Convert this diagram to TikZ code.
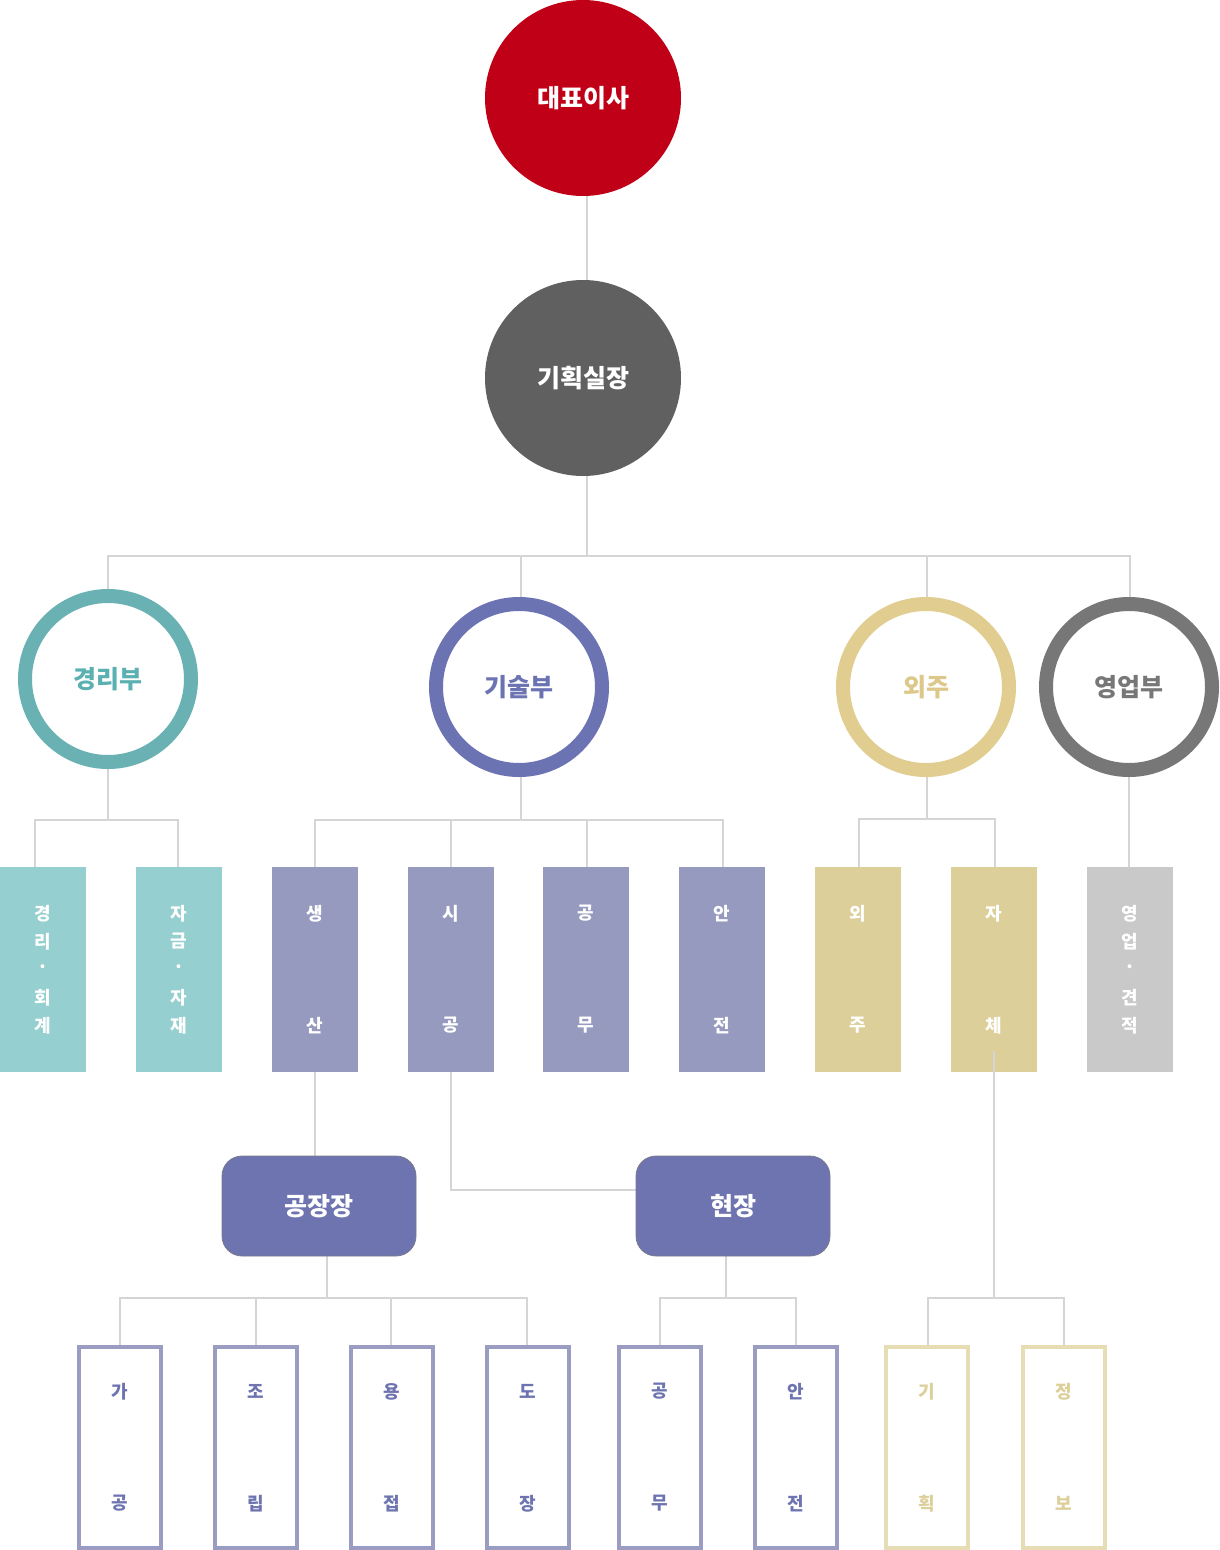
\documentclass[tikz,border=0pt]{standalone}
\usepackage{fontspec}
\setmainfont{Noto Sans CJK KR}
\usetikzlibrary{backgrounds}
\definecolor{lineC}{HTML}{D5D5D5}
\definecolor{ceoC}{HTML}{C00016}
\definecolor{planC}{HTML}{606060}
\definecolor{tealR}{HTML}{6AB1B4}
\definecolor{tealT}{HTML}{5BB0B1}
\definecolor{purR}{HTML}{6C73B3}
\definecolor{yelR}{HTML}{E0CD8F}
\definecolor{yelT}{HTML}{DCC88A}
\definecolor{grayR}{HTML}{777777}
\definecolor{mTeal}{HTML}{95CFD0}
\definecolor{mPur}{HTML}{979ABF}
\definecolor{mYel}{HTML}{DDCF99}
\definecolor{mGray}{HTML}{C9C9C9}
\definecolor{mgrC}{HTML}{6E74AF}
\definecolor{mgrEdge}{HTML}{7A7A8E}
\definecolor{bPur}{HTML}{9A9CC2}
\definecolor{bPurT}{HTML}{6E74AF}
\definecolor{bYel}{HTML}{E6DDB5}
\definecolor{bYelT}{HTML}{DCCF99}
\newcommand\twochB[4]{%
  \node[ch,text=#4] at ([yshift=56pt]#1.center) {#2};
  \node[ch,text=#4] at ([yshift=-56pt]#1.center) {#3};}
\newcommand\fivech[6]{%
  \node[ch,text=#6] at ([yshift=56pt]#1.center) {#2};
  \node[ch,text=#6] at ([yshift=28pt]#1.center) {#3};
  \node[ch,text=#6] at (#1.center) {·};
  \node[ch,text=#6] at ([yshift=-28pt]#1.center) {#4};
  \node[ch,text=#6] at ([yshift=-56pt]#1.center) {#5};}
\begin{document}
\begin{tikzpicture}[x=1pt,y=-1pt,
  conn/.style={draw=lineC, line width=2pt},
  solidc/.style={circle, minimum size=196pt, inner sep=0pt, text=white,
    font=\bfseries\fontsize{25}{28}\selectfont},
  ring/.style={circle, minimum size=166pt, line width=14pt, fill=white, inner sep=0pt,
    font=\bfseries\fontsize{25}{28}\selectfont},
  midbox/.style={rectangle, minimum width=86pt, minimum height=205pt, inner sep=0pt},
  botbox/.style={rectangle, minimum width=82pt, minimum height=201pt, line width=4pt,
    fill=white, inner sep=0pt},
  mgr/.style={rectangle, rounded corners=20pt, minimum width=194pt, minimum height=100pt,
    fill=mgrC, draw=mgrEdge, line width=0.8pt, text=white, inner sep=0pt,
    font=\bfseries\fontsize{25}{28}\selectfont},
  ch/.style={inner sep=0pt, font=\bfseries\fontsize{18}{20}\selectfont}]
\useasboundingbox (0,0) rectangle (1219,1550);

% top circles
\node[solidc, fill=ceoC] (ceo) at (583,98) {대표이사};
\node[solidc, fill=planC] (plan) at (583,378) {기획실장};

% department rings
\node[ring, draw=tealR, text=tealT] (gr) at (108,679) {경리부};
\node[ring, draw=purR, text=purR] (gs) at (519,687) {기술부};
\node[ring, draw=yelR, text=yelT] (oj) at (926,687) {외주};
\node[ring, draw=grayR, text=grayR] (yu) at (1129,687) {영업부};

% middle boxes
\node[midbox, fill=mTeal] (b1) at (43,969.5) {};
\node[midbox, fill=mTeal] (b2) at (179,969.5) {};
\node[midbox, fill=mPur] (b3) at (314.5,969.5) {};
\node[midbox, fill=mPur] (b4) at (450.5,969.5) {};
\node[midbox, fill=mPur] (b5) at (586,969.5) {};
\node[midbox, fill=mPur] (b6) at (722,969.5) {};
\node[midbox, fill=mYel] (b7) at (858,969.5) {};
\node[midbox, fill=mYel] (b8) at (994,969.5) {};
\node[midbox, fill=mGray] (b9) at (1129.5,969.5) {};

\fivech{b1}{경}{리}{회}{계}{white}
\fivech{b2}{자}{금}{자}{재}{white}
\twochB{b3}{생}{산}{white}
\twochB{b4}{시}{공}{white}
\twochB{b5}{공}{무}{white}
\twochB{b6}{안}{전}{white}
\twochB{b7}{외}{주}{white}
\twochB{b8}{자}{체}{white}
\fivech{b9}{영}{업}{견}{적}{white}

% managers
\node[mgr] (gjj) at (319,1206) {공장장};
\node[mgr] (hj) at (733,1206) {현장};

% bottom boxes
\node[botbox, draw=bPur] (c1) at (120,1447.5) {};
\node[botbox, draw=bPur] (c2) at (256,1447.5) {};
\node[botbox, draw=bPur] (c3) at (391.5,1447.5) {};
\node[botbox, draw=bPur] (c4) at (528,1447.5) {};
\node[botbox, draw=bPur] (c5) at (659.5,1447.5) {};
\node[botbox, draw=bPur] (c6) at (796,1447.5) {};
\node[botbox, draw=bYel] (c7) at (927,1447.5) {};
\node[botbox, draw=bYel] (c8) at (1063.5,1447.5) {};

\twochB{c1}{가}{공}{bPurT}
\twochB{c2}{조}{립}{bPurT}
\twochB{c3}{용}{접}{bPurT}
\twochB{c4}{도}{장}{bPurT}
\twochB{c5}{공}{무}{bPurT}
\twochB{c6}{안}{전}{bPurT}
\twochB{c7}{기}{획}{bYelT}
\twochB{c8}{정}{보}{bYelT}

% bus coordinates
\coordinate (t0) at (587,556);
\coordinate (tL) at (108,556);
\coordinate (tR) at (1130,556);
\coordinate (t2) at (521,556);
\coordinate (t3) at (927,556);
\coordinate (g0) at (108,820);
\coordinate (gL) at (35,820);
\coordinate (gR) at (178,820);
\coordinate (s0) at (521,820);
\coordinate (sL) at (315,820);
\coordinate (s2) at (451,820);
\coordinate (s3) at (587,820);
\coordinate (sR) at (723,820);
\coordinate (o0) at (927,819);
\coordinate (oL) at (859,819);
\coordinate (oR) at (995,819);
\coordinate (f0) at (327,1298);
\coordinate (fL) at (120,1298);
\coordinate (f2) at (256,1298);
\coordinate (f3) at (391,1298);
\coordinate (fR) at (527,1298);
\coordinate (h0) at (726,1298);
\coordinate (hL) at (660,1298);
\coordinate (hR) at (796,1298);
\coordinate (j0) at (994,1298);
\coordinate (jL) at (928,1298);
\coordinate (jR) at (1064,1298);
\coordinate (jtop) at (994,1051);

\begin{pgfonlayer}{background}
\fill[white] (0,0) rectangle (1219,1550);
% top
\draw[conn] (ceo.south -| t0) -- (plan.north -| t0);
\draw[conn] (plan.south -| t0) -- (t0);
\draw[conn] (gr.north) -- (tL) -- (tR) -- (yu.north -| tR);
\draw[conn] (t2) -- (gs.north -| t2);
\draw[conn] (t3) -- (oj.north -| t3);
% 경리부
\draw[conn] (gr.south) -- (g0);
\draw[conn] (b1.north -| gL) -- (gL) -- (gR) -- (b2.north -| gR);
% 기술부
\draw[conn] (gs.south -| s0) -- (s0);
\draw[conn] (b3.north -| sL) -- (sL) -- (sR) -- (b6.north -| sR);
\draw[conn] (s2) -- (b4.north -| s2);
\draw[conn] (s3) -- (b5.north -| s3);
% 외주
\draw[conn] (oj.south -| o0) -- (o0);
\draw[conn] (b7.north -| oL) -- (oL) -- (oR) -- (b8.north -| oR);
% 영업부
\draw[conn] (yu.south) -- (b9.north -| yu.south);
% to managers
\draw[conn] (b3.south -| sL) -- (gjj.north -| sL);
\draw[conn] (b4.south -| s2) |- ([yshift=16pt]hj.west);
% under managers
\draw[conn] (gjj.south -| f0) -- (f0);
\draw[conn] (c1.north -| fL) -- (fL) -- (fR) -- (c4.north -| fR);
\draw[conn] (f2) -- (c2.north -| f2);
\draw[conn] (f3) -- (c3.north -| f3);
\draw[conn] (hj.south -| h0) -- (h0);
\draw[conn] (c5.north -| hL) -- (hL) -- (hR) -- (c6.north -| hR);
\draw[conn] (c7.north -| jL) -- (jL) -- (jR) -- (c8.north -| jR);
\end{pgfonlayer}
% 자체 line drawn over the box
\draw[conn] (jtop) -- (j0);
\end{tikzpicture}
\end{document}
